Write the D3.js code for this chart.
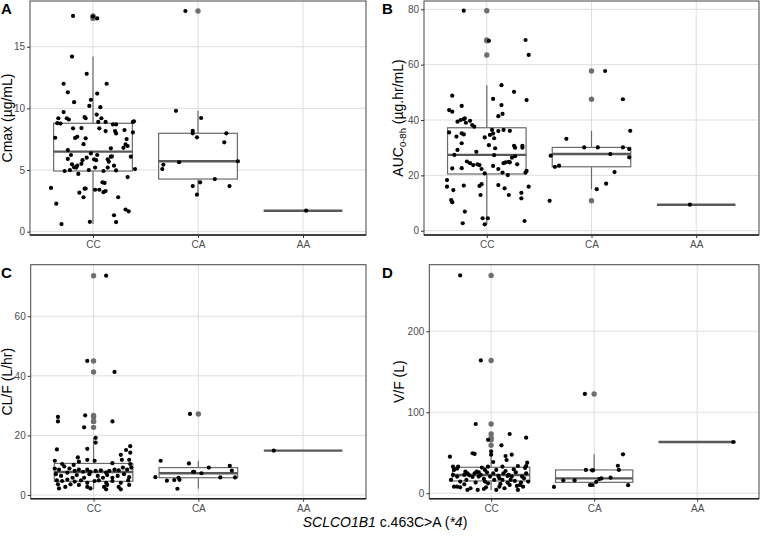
<!DOCTYPE html>
<html>
<head>
<meta charset="utf-8">
<script src="https://cdn.jsdelivr.net/npm/d3@7"></script>
<style>
body { margin: 0; background: #fff; }
svg { display: block; font-family: "Liberation Sans", Arial, sans-serif; }
</style>
</head>
<body>
<script>
var genotypes = ["CC", "CA", "AA"];

// each point: [jitter (fraction of category step), value]
var cmaxCC = [[-0.19,17.5],[0.04,17.3],[0.00,17.45],[-0.20,14.2],[-0.06,12.8],[-0.28,12.0],[0.13,12.0],[-0.24,11.3],[0.04,11.2],[-0.18,10.5],[-0.02,10.7],[-0.035,10.2],[0.07,10.1],[-0.28,9.7],[-0.08,9.3],[-0.07,9.2],[0.035,9.5],[0.08,9.2],[-0.33,9.2],[-0.25,9.2],[-0.23,9.1],
  [-0.34,8.8],[-0.31,8.77],[-0.11,8.4],[0.05,8.9],[0.12,8.9],[0.19,8.7],[0.22,8.7],[0.38,8.9],[0.39,8.95],[-0.19,8.38],[0.06,8.38],[0.12,8.16],[0.21,8.16],[0.22,7.97],[0.30,8.24],[0.38,8.05],[-0.36,7.62],[-0.17,7.6],[-0.15,7.7],[-0.07,7.57],[0.32,7.51],[-0.09,7.1],[0.31,7.08],[0.29,6.8],[0.33,6.95],[-0.24,6.62],[0.17,6.76],[-0.02,6.35],[-0.21,6.22],[-0.24,5.9],[-0.10,5.8],[-0.06,6.0],[0.01,5.87],[0.03,5.8],[0.04,6.22],[0.14,5.87],[0.17,6.08],[0.18,6.1],[0.15,5.68],[0.36,6.08],[-0.20,5.46],[-0.18,5.22],[-0.16,5.2],[-0.15,5.35],[-0.11,5.5],[0.02,5.2],[0.14,5.2],[0.20,5.35],[-0.27,4.92],[-0.22,5.0],[-0.14,4.68],[-0.04,5.0],[0.10,4.92],[0.22,4.97],[0.40,5.08],[0.33,4.43],
  [-0.40,3.55],[-0.07,3.5],[-0.13,3.16],[-0.09,2.79],[-0.08,3.49],[0.02,3.4],[0.06,3.4],[0.10,3.2],[0.12,3.3],[0.11,3.95],[0.09,4.0],[0.24,2.79],[-0.35,2.27],[0.31,1.8],[0.34,1.65],[0.20,1.33],[0.22,0.78],[-0.03,0.8],[-0.30,0.62]];
var cmaxCA = [[-0.12,17.9],[-0.21,9.8],[0.03,9.22],[-0.05,8.17],[-0.05,7.98],[-0.01,7.65],[0.27,7.98],[0.25,7.25],[0.38,5.71],[-0.18,5.63],[-0.33,5.43],[-0.34,5.08],[0.16,4.27],[0.02,4.0],[-0.05,3.7],[0.30,3.7],[-0.01,3.0]];
var cmaxAA = [[0.03,1.7]];

var aucCC = [[-0.22,79.5],[0.02,68.6],[0.37,68.9],[0.40,63.5],[0.14,52.6],[-0.33,48.8],[0.26,50.2],[0.38,47.2],[0.06,47.6],[-0.24,45.1],[0.14,45.4],[-0.36,43.6],[-0.33,43.0],[0.15,42.2],[0.11,41.4],[-0.21,40.6],
  [-0.28,39.4],[-0.25,40.0],[-0.22,40.3],[-0.16,39.7],[-0.14,38.2],[-0.12,37.6],[-0.20,39.0],[-0.36,35.5],[-0.29,34.0],[-0.24,35.2],[-0.22,34.8],[-0.02,33.7],[0.03,34.6],[0.06,35.1],[0.07,33.4],[0.05,36.4],[0.11,36.0],[0.16,36.4],[0.22,36.1],[-0.24,31.6],[-0.28,29.2],[0.02,30.9],[0.08,29.8],[0.26,30.7],[0.27,30.0],[0.34,30.7],[0.34,30.0],[-0.31,27.4],[0.07,27.3],[0.27,26.9],[-0.10,28.5],
  [-0.33,22.5],[-0.24,22.6],[-0.19,25.0],[-0.16,24.4],[-0.13,23.7],[-0.09,24.0],[-0.07,23.7],[-0.05,22.3],[-0.02,20.7],[0.11,22.3],[0.16,24.4],[0.18,24.7],[0.21,24.9],[0.22,24.7],[0.15,21.0],[0.20,20.1],[0.06,23.4],[0.24,26.4],[0.29,24.0],[0.38,21.6],[0.37,21.0],
  [-0.38,18.3],[-0.38,15.9],[-0.32,14.7],[-0.22,16.3],[-0.07,16.2],[-0.05,16.8],[-0.06,12.9],[0.11,16.5],[0.17,15.3],[0.21,12.9],[0.33,13.7],[0.33,11.7],[0.40,15.9],[-0.34,11.1],[-0.33,10.3],[-0.21,6.9],[-0.04,4.5],[0.01,4.5],[-0.02,2.3],[-0.23,2.7],[0.36,3.5]];
var aucCA = [[0.13,57.7],[0.30,47.5],[0.37,36.1],[-0.24,33.2],[-0.07,30.1],[0.06,30.1],[0.30,30.1],[0.36,29.5],[-0.39,27.1],[0.18,27.7],[0.36,26.5],[-0.35,23.1],[-0.31,23.5],[0.22,21.2],[0.14,17.0],[0.05,15.0],[-0.40,10.8]];
var aucAA = [[-0.06,9.4]];

var clCC = [[0.12,73.6],[-0.06,45.0],[0.20,41.3],[-0.34,26.2],[-0.34,24.7],[-0.08,26.7],[-0.09,22.7],[0.18,24.7],[0.02,19.2],[0.02,17.6],[-0.35,15.3],[-0.06,15.5],[0.26,13.5],[0.31,15.1],[0.35,16.4],[0.35,14.2],
  [-0.37,11.5],[-0.30,10.4],[-0.19,10.1],[-0.15,12.6],[-0.14,11.2],[-0.06,11.8],[0.01,11.5],[0.18,10.7],[0.27,11.8],[0.34,11.8],[0.35,10.4],
  [-0.37,8.9],[-0.33,8.5],[-0.28,9.6],[-0.23,8.9],[-0.18,8.1],[-0.14,8.5],[-0.10,7.8],[-0.06,8.5],[-0.03,7.8],[0.02,8.1],[0.07,8.3],[0.12,7.5],[0.15,8.1],[0.20,8.5],[0.24,8.3],[0.28,9.2],[0.32,8.5],[0.36,9.2],
  [-0.36,7.0],[-0.31,6.4],[-0.25,7.5],[-0.20,5.8],[-0.16,6.7],[-0.09,5.8],[-0.04,7.0],[0.04,6.4],[0.09,5.8],[0.13,6.7],[0.18,5.8],[0.23,6.4],[0.29,7.0],[0.34,6.0],
  [-0.35,4.9],[-0.30,4.7],[-0.25,5.2],[-0.18,4.5],[-0.12,4.9],[-0.06,4.1],[0.01,4.7],[0.05,4.9],[0.12,4.1],[0.18,4.7],[0.26,4.1],[0.33,4.9],
  [-0.34,3.6],[-0.27,2.7],[-0.33,2.2],[-0.22,3.6],[-0.14,3.4],[-0.06,2.7],[-0.03,2.2],[0.10,2.7],[0.12,1.9],[0.13,3.4],[0.24,2.7],[0.26,1.9],[0.34,3.4]];
var clCA = [[-0.08,27.2],[-0.36,11.5],[-0.09,10.6],[0.10,9.2],[0.30,9.8],[0.32,8.2],[-0.04,7.8],[-0.05,7.8],[0.03,7.3],[-0.41,6.0],[0.21,5.9],[0.35,5.9],[-0.19,5.8],[-0.18,5.1],[-0.30,4.8],[-0.23,5.0],[-0.20,2.1]];
var clAA = [[-0.28,14.9]];

var vfCC = [[-0.30,269],[-0.10,164],[-0.15,85.5],[0.18,73.2],[0.34,68.7],[-0.03,66],[0.10,59.2],[0.00,51.8],[0.00,47.7],
  [-0.40,45.2],[-0.37,32.9],[-0.36,28.8],[-0.33,30.5],[-0.32,32.9],[-0.36,8.2],[-0.33,8.2],[-0.30,7.4],[-0.26,11.1],[-0.24,16.5],[-0.21,22.2],[-0.18,20.2],[-0.16,24.7],[-0.14,26.7],[-0.12,25.9],[-0.10,22.6],[-0.18,49.4],[-0.16,48.6],[-0.12,20.6],[-0.07,17.7],[-0.06,14.5],[-0.03,12.3],[-0.07,5.3],[-0.05,7.4],
  [-0.01,20.6],[0.02,24.7],[0.03,16.5],[0.05,28.8],[0.07,21.4],[0.09,11.5],[0.02,38.6],[0.11,32.9],[0.14,27.5],[0.17,22.6],[0.15,41.1],[0.14,46.0],[0.20,20.6],[0.23,15.3],[0.25,9.1],[0.22,29.6],[0.24,25.9],[0.26,33.7],[0.29,13.2],[0.31,8.2],[0.33,31.3],[0.34,24.7],[0.35,37.8],[0.34,33.7],[0.36,14.5],[0.20,47.7],
  [-0.25,26.7],[-0.33,20.6],[-0.30,14.5],[-0.26,22.6],[-0.23,4.1],[-0.20,6.2],[-0.15,13.2],[-0.13,4.1],[0.05,4.1],[0.08,8.2],[0.13,6.2],[0.18,10.3],[0.26,4.1],[0.28,10.3],[0.08,18.5],[0.11,16.5],[0.19,16.5],[0.16,13.2],[-0.39,16.5],[-0.37,22.6],[-0.09,31.7],[-0.06,28.8],[0.30,20.6],[0.32,18.5],[-0.23,24.7],[-0.03,32.9],[-0.04,25.9],[0.16,21.4],[0.12,24.7]];
var vfCA = [[-0.09,122.6],[0.28,48.1],[0.23,34],[0.24,28.8],[-0.08,28.8],[-0.02,28.3],[-0.01,28.3],[0.16,19.3],[-0.39,7.8],[-0.30,16.0],[-0.19,16.0],[0.05,17.5],[0.07,18.3],[-0.02,10.2],[-0.04,10.2],[0.02,14],[0.33,10]];
var vfAA = [[0.35,63.3]];

// box statistics, per genotype CC, CA, AA
var cmaxBox = { lo: [0.62, 3.0, 1.7], q1: [4.92, 4.27, 1.7], med: [6.49, 5.71, 1.7], q3: [8.79, 7.98, 1.7], hi: [14.2, 9.8, 1.7] };
var aucBox = { lo: [2.3, 15.0, 9.4], q1: [20.5, 23.1, 9.4], med: [27.4, 27.7, 9.4], q3: [37.2, 30.1, 9.4], hi: [52.6, 36.1, 9.4] };
var clBox = { lo: [1.9, 2.1, 14.9], q1: [4.6, 5.8, 14.9], med: [7.7, 7.3, 14.9], q3: [10.6, 9.2, 14.9], hi: [19.2, 11.5, 14.9] };
var vfBox = { lo: [4.1, 7.8, 63.3], q1: [15.2, 13.5, 63.3], med: [22.5, 18.4, 63.3], q3: [32.1, 28.8, 63.3], hi: [51.8, 48.1, 63.3] };

var cmaxTicks = [0, 5, 10, 15];
var aucTicks = [0, 20, 40, 60, 80];
var clTicks = [0, 20, 40, 60];
var vfTicks = [0, 100, 200];

var width = 760, height = 536;

var svg = d3.select("body")
    .append("svg")
    .attr("width", width)
    .attr("height", height);

var panels = [
    { tag: "A", title: ["Cmax (µg/mL)"], groups: [cmaxCC, cmaxCA, cmaxAA], box: cmaxBox, ticks: cmaxTicks,
      left: 30, right: 366, top: 1, bottom: 235, domain: [-0.27, 18.71], tagX: 1, titleX: 12 },
    { tag: "B", title: ["AUC", "0-8h", " (µg.hr/mL)"], groups: [aucCC, aucCA, aucAA], box: aucBox, ticks: aucTicks,
      left: 424, right: 759, top: 1, bottom: 235, domain: [-1.55, 83.0], tagX: 382, titleX: 403 },
    { tag: "C", title: ["CL/F (L/hr)"], groups: [clCC, clCA, clAA], box: clBox, ticks: clTicks,
      left: 30.7, right: 366, top: 264.7, bottom: 498.7, domain: [-1.24, 77.3], tagX: 1, titleX: 12 },
    { tag: "D", title: ["V/F (L)"], groups: [vfCC, vfCA, vfAA], box: vfBox, ticks: vfTicks,
      left: 429.3, right: 759, top: 264.7, bottom: 498.7, domain: [-6.7, 282.2], tagX: 382, titleX: 404 }
];

panels.forEach(drawPanel);

function drawPanel(p) {
    var x = d3.scalePoint()
        .domain(genotypes)
        .range([p.left, p.right])
        .padding(0.6);
    var y = d3.scaleLinear()
        .domain(p.domain)
        .range([p.bottom, p.top]);
    var step = x.step();
    var bw = step * 0.75;

    var g = svg.append("g");

    // white panel + grid
    g.append("rect")
        .attr("x", p.left).attr("y", p.top)
        .attr("width", p.right - p.left).attr("height", p.bottom - p.top)
        .attr("fill", "#fff");

    g.selectAll(".hgrid")
        .data(p.ticks)
        .enter().append("line")
        .attr("x1", p.left).attr("x2", p.right)
        .attr("y1", function(d) { return y(d); })
        .attr("y2", function(d) { return y(d); })
        .attr("stroke", "#dedede").attr("stroke-width", 1);

    g.selectAll(".vgrid")
        .data(genotypes)
        .enter().append("line")
        .attr("y1", p.top).attr("y2", p.bottom)
        .attr("x1", function(d) { return x(d); })
        .attr("x2", function(d) { return x(d); })
        .attr("stroke", "#dedede").attr("stroke-width", 1);

    // boxplots
    genotypes.forEach(function(k, i) {
        var cx = x(k);
        var b = p.box;
        g.append("line")
            .attr("x1", cx).attr("x2", cx)
            .attr("y1", y(b.q3[i])).attr("y2", y(b.hi[i]))
            .attr("stroke", "#6b6b6b").attr("stroke-width", 1.2);
        g.append("line")
            .attr("x1", cx).attr("x2", cx)
            .attr("y1", y(b.q1[i])).attr("y2", y(b.lo[i]))
            .attr("stroke", "#6b6b6b").attr("stroke-width", 1.2);
        g.append("rect")
            .attr("x", cx - bw / 2).attr("width", bw)
            .attr("y", y(b.q3[i]))
            .attr("height", Math.max(0, y(b.q1[i]) - y(b.q3[i])))
            .attr("fill", "#fff")
            .attr("stroke", "#6b6b6b").attr("stroke-width", 1.2);
        g.append("line")
            .attr("x1", cx - bw / 2).attr("x2", cx + bw / 2)
            .attr("y1", y(b.med[i])).attr("y2", y(b.med[i]))
            .attr("stroke", "#595959").attr("stroke-width", 2.4);

        // outliers sit on the centre line in grey
        var outs = p.groups[i].filter(function(d) {
            return d[1] > b.hi[i] + 1e-9 || d[1] < b.lo[i] - 1e-9;
        });
        g.selectAll(null)
            .data(outs)
            .enter().append("circle")
            .attr("cx", cx)
            .attr("cy", function(d) { return y(d[1]); })
            .attr("r", 2.7)
            .attr("fill", "#6e6e6e");
    });

    // jittered points on top
    genotypes.forEach(function(k, i) {
        g.selectAll(null)
            .data(p.groups[i])
            .enter().append("circle")
            .attr("cx", function(d) { return x(k) + d[0] * step; })
            .attr("cy", function(d) { return y(d[1]); })
            .attr("r", 2.1)
            .attr("fill", "#000");
    });

    // panel border
    g.append("rect")
        .attr("x", p.left).attr("y", p.top)
        .attr("width", p.right - p.left).attr("height", p.bottom - p.top)
        .attr("fill", "none")
        .attr("stroke", "#444").attr("stroke-width", 1);
    g.append("line")
        .attr("x1", p.left).attr("x2", p.right)
        .attr("y1", p.bottom).attr("y2", p.bottom)
        .attr("stroke", "#222").attr("stroke-width", 1.6);

    // axes
    var ya = g.append("g")
        .attr("transform", "translate(" + p.left + ",0)")
        .call(d3.axisLeft(y).tickValues(p.ticks).tickSize(3).tickPadding(2));
    var xa = g.append("g")
        .attr("transform", "translate(0," + p.bottom + ")")
        .call(d3.axisBottom(x).tickSize(3).tickPadding(3));
    [ya, xa].forEach(function(a) {
        a.select(".domain").remove();
        a.selectAll(".tick line").attr("stroke", "#333");
        a.selectAll(".tick text")
            .attr("fill", "#4d4d4d")
            .style("font-size", "10px")
            .style("font-family", "'Liberation Sans', Arial, sans-serif");
    });

    // y title
    var t = svg.append("text")
        .attr("transform", "translate(" + p.titleX + "," + ((p.top + p.bottom) / 2) + ") rotate(-90)")
        .attr("text-anchor", "middle")
        .style("font-size", "14px")
        .attr("fill", "#000");
    t.append("tspan").text(p.title[0]);
    if (p.title.length > 1) {
        t.append("tspan").attr("dy", 3).style("font-size", "9.5px").text(p.title[1]);
        t.append("tspan").attr("dy", -3).text(p.title[2]);
    }

    // panel tag
    svg.append("text")
        .attr("x", p.tagX).attr("y", p.top + 13)
        .style("font-size", "15px")
        .style("font-weight", "bold")
        .text(p.tag);
}

// shared x title
var xt = svg.append("text")
    .attr("x", 385).attr("y", 527)
    .attr("text-anchor", "middle")
    .style("font-size", "14px");
xt.append("tspan").style("font-style", "italic").text("SCLCO1B1");
xt.append("tspan").text(" c.463C>A (");
xt.append("tspan").style("font-style", "italic").text("*4");
xt.append("tspan").text(")");
</script>
</body>
</html>
